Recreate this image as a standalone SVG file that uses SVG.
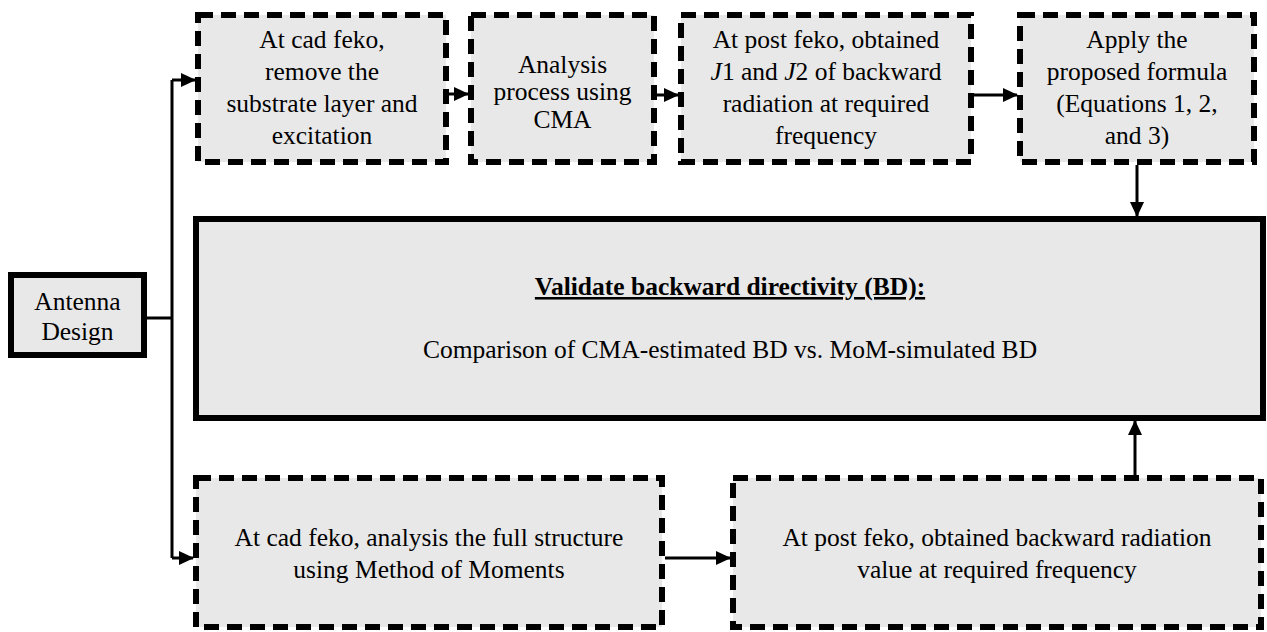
<svg xmlns="http://www.w3.org/2000/svg" width="1267" height="632" viewBox="0 0 1267 632">
  <style>
    .box { fill: #e8e8e8; stroke: #000; }
    .dash { stroke-width: 6; stroke-dasharray: 15 8; }
    .solid { stroke-width: 6; }
    text { font-family: 'Liberation Serif', 'Times New Roman', Times, 'DejaVu Serif', serif; font-size: 25.5px; fill: #000; text-anchor: middle; }
    .b { font-weight: bold; text-decoration: underline; }
    .conn { fill: none; stroke: #000; stroke-width: 3; }
  </style>
  <defs>
    <marker id="arrow" markerUnits="userSpaceOnUse" markerWidth="15" markerHeight="14" refX="14" refY="7" orient="auto">
      <path d="M0,0 L15,7 L0,14 z" fill="#000"/>
    </marker>
  </defs>

  <!-- connectors -->
  <g id="connectors">
    <path class="conn" d="M147,318 H172"/>
    <path class="conn" d="M172,80 V558"/>
    <path class="conn" d="M172,80 H195" marker-end="url(#arrow)"/>
    <path class="conn" d="M172,558 H193" marker-end="url(#arrow)"/>
    <path class="conn" d="M449,94 H468" marker-end="url(#arrow)"/>
    <path class="conn" d="M657,95 H678" marker-end="url(#arrow)"/>
    <path class="conn" d="M974,95 H1017" marker-end="url(#arrow)"/>
    <path class="conn" d="M1137,165 V216" marker-end="url(#arrow)"/>
    <path class="conn" d="M665,558 H730" marker-end="url(#arrow)"/>
    <path class="conn" d="M1135,475 V421" marker-end="url(#arrow)"/>
  </g>

  <g id="antenna-design">
    <rect class="box solid" x="11" y="275" width="133" height="80"/>
    <text x="77.5" y="310" font-family="Liberation Serif, serif">Antenna</text>
    <text x="77.5" y="340" font-family="Liberation Serif, serif">Design</text>
  </g>

  <g id="cad-remove">
    <rect class="box dash" x="198" y="15" width="248" height="147"/>
    <text x="322" y="48">At cad feko,</text>
    <text x="322" y="80">remove the</text>
    <text x="322" y="112">substrate layer and</text>
    <text x="322" y="144">excitation</text>
  </g>

  <g id="cma-analysis">
    <rect class="box dash" x="471" y="15" width="183" height="147"/>
    <text x="562.5" y="73">Analysis</text>
    <text x="562.5" y="100">process using</text>
    <text x="562.5" y="128">CMA</text>
  </g>

  <g id="post-modes">
    <rect class="box dash" x="681" y="15" width="290" height="147"/>
    <text x="826" y="48">At post feko, obtained</text>
    <text x="826" y="80"><tspan font-style="italic">J</tspan>1 and <tspan font-style="italic">J</tspan>2 of backward</text>
    <text x="826" y="112">radiation at required</text>
    <text x="826" y="144">frequency</text>
  </g>

  <g id="formula">
    <rect class="box dash" x="1020" y="15" width="234" height="147"/>
    <text x="1137" y="48">Apply the</text>
    <text x="1137" y="80">proposed formula</text>
    <text x="1137" y="112">(Equations 1, 2,</text>
    <text x="1137" y="144">and 3)</text>
  </g>

  <g id="validate">
    <rect class="box solid" x="196" y="219" width="1067" height="199"/>
    <text class="b" x="730" y="295">Validate backward directivity (BD):</text>
    <text x="730" y="358">Comparison of CMA-estimated BD vs. MoM-simulated BD</text>
  </g>

  <g id="mom-analysis">
    <rect class="box dash" x="196" y="478" width="466" height="149"/>
    <text x="429" y="546">At cad feko, analysis the full structure</text>
    <text x="429" y="578">using Method of Moments</text>
  </g>

  <g id="post-backward">
    <rect class="box dash" x="733" y="478" width="528" height="149"/>
    <text x="997" y="546">At post feko, obtained backward radiation</text>
    <text x="997" y="578">value at required frequency</text>
  </g>
</svg>
